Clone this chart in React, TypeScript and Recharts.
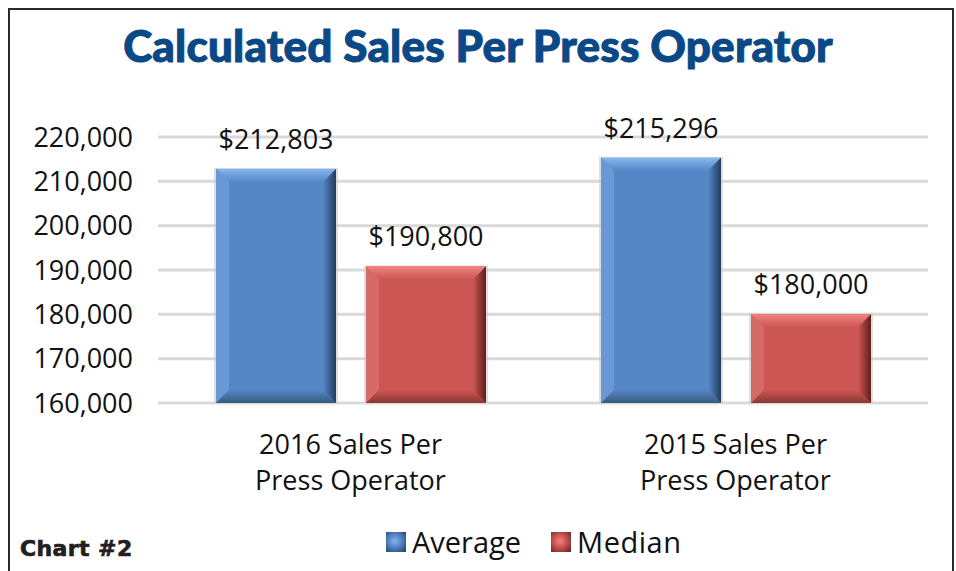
import React from "react";
import { BarChart, Bar, XAxis, YAxis, CartesianGrid, LabelList } from "recharts";

// values
const categories = ["2016 Sales Per\nPress Operator", "2015 Sales Per\nPress Operator"];
const averageValues = [212803, 215296];
const medianValues = [190800, 180000];
const yTicks = [160000, 170000, 180000, 190000, 200000, 210000, 220000];
const seriesNames = ["Average", "Median"];

const data = categories.map((name, i) => ({
  name,
  average: averageValues[i],
  median: medianValues[i],
}));

const BLUE = { id: "blue", base: "#5587c7", light: "#86b6ee", edge: "#6a98d3", dark: "#233c5e", bottom: "#38587f" };
const RED = { id: "red", base: "#cc5653", light: "#f1837f", edge: "#d66a66", dark: "#5e1f1d", bottom: "#8a3634" };

const FONT = "'Open Sans', sans-serif";

const BevelBar = (props: any) => {
  const { x, y, width: w, height: h, palette: p } = props;
  if (!w || !h || h <= 0) return null;
  const b = Math.min(13, w / 6, h / 4);
  return (
    <g>
      <defs>
        <linearGradient id={`top-${p.id}`} x1="0" y1="0" x2="0" y2="1">
          <stop offset="0%" stopColor={p.light} />
          <stop offset="100%" stopColor={p.base} />
        </linearGradient>
        <linearGradient id={`right-${p.id}`} x1="0" y1="0" x2="1" y2="0">
          <stop offset="0%" stopColor={p.base} />
          <stop offset="100%" stopColor={p.dark} />
        </linearGradient>
        <linearGradient id={`bot-${p.id}`} x1="0" y1="0" x2="0" y2="1">
          <stop offset="0%" stopColor={p.base} />
          <stop offset="100%" stopColor={p.bottom} />
        </linearGradient>
      </defs>
      <rect x={x - 2} y={y - 1} width={w + 4} height={h + 2} fill="#c8c8c8" opacity={0.6} />
      <rect x={x} y={y} width={w} height={h} fill={p.base} />
      <polygon
        points={`${x},${y} ${x + w},${y} ${x + w - b},${y + b} ${x + b},${y + b}`}
        fill={`url(#top-${p.id})`}
      />
      <polygon
        points={`${x},${y} ${x + b},${y + b} ${x + b},${y + h - b} ${x},${y + h}`}
        fill={p.edge}
      />
      <polygon
        points={`${x + w},${y} ${x + w},${y + h} ${x + w - b},${y + h - b} ${x + w - b},${y + b}`}
        fill={`url(#right-${p.id})`}
      />
      <polygon
        points={`${x},${y + h} ${x + w},${y + h} ${x + w - b},${y + h - b} ${x + b},${y + h - b}`}
        fill={`url(#bot-${p.id})`}
      />
    </g>
  );
};

const CategoryTick = (props: any) => {
  const { x, y, payload } = props;
  const lines = String(payload.value).split("\n");
  return (
    <text x={x} y={y} textAnchor="middle" fill="#111" fontSize={27} fontFamily={FONT}>
      {lines.map((line, i) => (
        <tspan key={i} x={x} y={y + 43 + i * 36}>
          {line}
        </tspan>
      ))}
    </text>
  );
};

const money = (v: any) => "$" + Number(v).toLocaleString("en-US");

const LegendSwatch = ({ p }: { p: typeof BLUE }) => (
  <span
    style={{
      display: "inline-block",
      width: 20,
      height: 20,
      background: `radial-gradient(circle at 45% 45%, ${p.light} 0%, ${p.base} 40%, ${p.dark} 100%)`,
      marginRight: 6,
    }}
  />
);

export default function App() {
  return (
    <div style={{ position: "absolute", left: 0, top: 0, width: 956, height: 571, background: "#fff", overflow: "hidden" }}>
      <div
        style={{
          position: "absolute",
          left: 8,
          top: 8,
          width: 942,
          height: 580,
          borderTop: "2px solid #2a2a2a",
          borderLeft: "2px solid #2a2a2a",
          borderRight: "2px solid #2a2a2a",
        }}
      />
      <div
        style={{
          position: "absolute",
          left: 0,
          top: 19,
          width: 956,
          textAlign: "center",
          fontFamily: "Lato, sans-serif",
          fontWeight: 900,
          fontSize: 44,
          letterSpacing: 0.2,
          color: "#0b4886",
          WebkitTextStroke: "1px #0b4886",
        }}
      >
        Calculated Sales Per Press Operator
      </div>
      <BarChart
        width={956}
        height={571}
        data={data}
        margin={{ top: 137, right: 28, left: 0, bottom: 68 }}
        barCategoryGap="15%"
        barGap={30}
        style={{ position: "absolute", left: 0, top: 0 }}
      >
        <CartesianGrid vertical={false} stroke="#d9d9d9" strokeWidth={3} />
        <XAxis
          dataKey="name"
          axisLine={false}
          tickLine={false}
          height={100}
          tick={<CategoryTick />}
          interval={0}
        />
        <YAxis
          domain={[160000, 220000]}
          ticks={yTicks}
          allowDataOverflow
          width={158}
          axisLine={false}
          tickLine={false}
          tickMargin={19}
          tickFormatter={(v) => Number(v).toLocaleString("en-US")}
          tick={{ fill: "#111", fontSize: 27, fontFamily: FONT }}
        />
        <Bar dataKey="average" name={seriesNames[0]} barSize={120} isAnimationActive={false} shape={(p: any) => <BevelBar {...p} palette={BLUE} />}>
          <LabelList dataKey="average" position="top" offset={20} formatter={money} fill="#111" fontSize={27} fontFamily={FONT} />
        </Bar>
        <Bar dataKey="median" name={seriesNames[1]} barSize={120} isAnimationActive={false} shape={(p: any) => <BevelBar {...p} palette={RED} />}>
          <LabelList dataKey="median" position="top" offset={20} formatter={money} fill="#111" fontSize={27} fontFamily={FONT} />
        </Bar>
      </BarChart>
      <div
        style={{
          position: "absolute",
          left: 386,
          top: 522,
          display: "flex",
          alignItems: "center",
          fontFamily: FONT,
          fontSize: 29,
          color: "#111",
        }}
      >
        <LegendSwatch p={BLUE} />
        <span style={{ marginRight: 30 }}>{seriesNames[0]}</span>
        <LegendSwatch p={RED} />
        <span style={{ letterSpacing: 0.5 }}>{seriesNames[1]}</span>
      </div>
      <div
        style={{
          position: "absolute",
          left: 20,
          top: 536,
          fontFamily: "'DejaVu Sans', sans-serif",
          fontWeight: 700,
          fontSize: 22,
          letterSpacing: 0.4,
          color: "#231f20",
          WebkitTextStroke: "0.7px #231f20",
        }}
      >
        Chart #2
      </div>
    </div>
  );
}
